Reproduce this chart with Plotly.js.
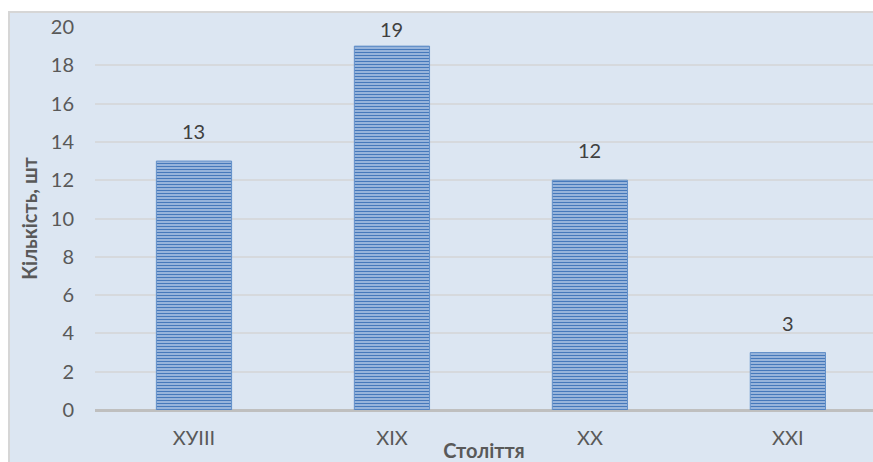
<!DOCTYPE html>
<html>
<head>
<meta charset="utf-8">
<script src="https://cdn.plot.ly/plotly-3.0.1.min.js"></script>
<style>html,body{margin:0;padding:0;background:#fff;}#chart{width:873px;height:462px;}</style>
</head>
<body>
<div id="chart"></div>
<script>
const categories = ["XУIII", "XIX", "XX", "XXI"];
const counts = [13, 19, 12, 3];
const yTicks = [0, 2, 4, 6, 8, 10, 12, 14, 16, 18, 20];
const xTitle = "Століття";
const yTitle = "Кількість, шт";

const FONT = "Lato, 'Open Sans', sans-serif";

const trace = {
  type: "bar",
  x: categories,
  y: counts,
  width: 0.38,
  marker: {
    color: "#c9d8ee",
    line: {color: "#6390c9", width: 1},
    pattern: {shape: "-", fgcolor: "#4679bb", bgcolor: "#bdd0ea", size: 3, solidity: 0.55, fillmode: "replace"}
  },
  hoverinfo: "skip"
};

const annotations = categories.map((c, i) => ({
  x: c, y: counts[i], xref: "x", yref: "y",
  text: String(counts[i]), showarrow: false,
  yanchor: "bottom", yshift: counts[i] > 18 ? 3 : 16,
  font: {family: FONT, size: 20, color: "#404040"}
}));

const layout = {
  width: 873, height: 462,
  margin: {l: 95, r: 0, t: 27, b: 52, pad: 0},
  paper_bgcolor: "#ffffff",
  plot_bgcolor: "rgba(0,0,0,0)",
  showlegend: false,
  font: {family: FONT, color: "#595959"},
  xaxis: {
    type: "category",
    range: [-0.5, 3.43],
    showgrid: false,
    showline: false,
    ticks: "",
    ticklabelstandoff: 14,
    tickfont: {family: FONT, size: 20, color: "#595959"},
    title: {text: xTitle, font: {family: FONT, size: 20, color: "#595959", weight: "bold"}, standoff: 0},
    fixedrange: true
  },
  yaxis: {
    range: [0, 20],
    tickvals: yTicks,
    showgrid: true,
    gridcolor: "#d6d9dd",
    gridwidth: 2,
    zeroline: true,
    zerolinecolor: "#bfbfbf",
    zerolinewidth: 3,
    showline: false,
    ticks: "",
    ticklabelstandoff: 20,
    tickfont: {family: FONT, size: 20, color: "#595959"},
    title: {text: yTitle, font: {family: FONT, size: 20, color: "#595959", weight: "bold"}, standoff: 7},
    fixedrange: true
  },
  shapes: [{
    type: "rect", xref: "paper", yref: "paper", layer: "below",
    x0: (9 - 95) / 778, x1: 1.01,
    y0: -0.2, y1: (410 - 12) / 383,
    fillcolor: "#dce6f2",
    line: {color: "#d6d6d6", width: 2}
  }],
  annotations: annotations
};

Plotly.newPlot("chart", [trace], layout, {displayModeBar: false, staticPlot: true});
</script>
</body>
</html>
